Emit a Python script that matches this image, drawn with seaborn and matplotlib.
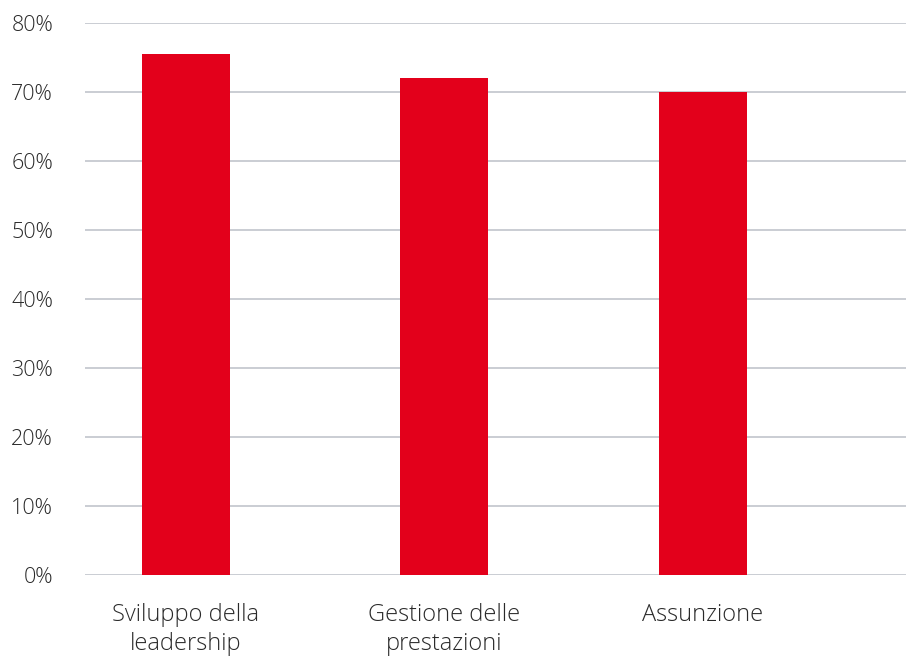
import matplotlib
matplotlib.use("Agg")
import matplotlib.pyplot as plt
import seaborn as sns
import pandas as pd
from matplotlib.ticker import FuncFormatter

categories = ["Sviluppo della\nleadership", "Gestione delle\nprestazioni", "Assunzione"]
values = [75.5, 72.0, 70.0]
y_ticks = [0, 10, 20, 30, 40, 50, 60, 70, 80]

sns.set_theme(style="white")
plt.rcParams["font.family"] = ["Open Sans", "DejaVu Sans"]

df = pd.DataFrame({"area": categories, "quota": values})

fig = plt.figure(figsize=(9.06, 6.56), dpi=100)
ax = fig.add_axes([85 / 906, 1 - 575 / 656, 1 - 85 / 906, (575 - 23) / 656])

sns.barplot(data=df, x="area", y="quota", color="#E3001B", width=0.34,
            saturation=1, ax=ax, zorder=3)
for p in ax.patches:
    p.set_edgecolor("none")

ax.set_ylim(0, 80)
ax.set_xlim(-0.39, 2.785)
ax.set_yticks(y_ticks)
ax.yaxis.set_major_formatter(FuncFormatter(lambda v, _: f"{v:.0f}%"))
ax.grid(axis="y", color="#BCC0C7", linewidth=1.1, zorder=0)
ax.grid(axis="x", visible=False)
for s in ax.spines.values():
    s.set_visible(False)
ax.set_xlabel("")
ax.set_ylabel("")
ax.tick_params(axis="y", length=0, pad=23, labelsize=15.5, labelcolor="#2a2a2a")
ax.tick_params(axis="x", length=0, pad=20, labelsize=17, labelcolor="#2a2a2a")
for lbl in ax.get_yticklabels() + ax.get_xticklabels():
    lbl.set_fontweight("light")
for lbl in ax.get_xticklabels():
    lbl.set_linespacing(1.3)

fig.savefig("out.png", dpi=100)
